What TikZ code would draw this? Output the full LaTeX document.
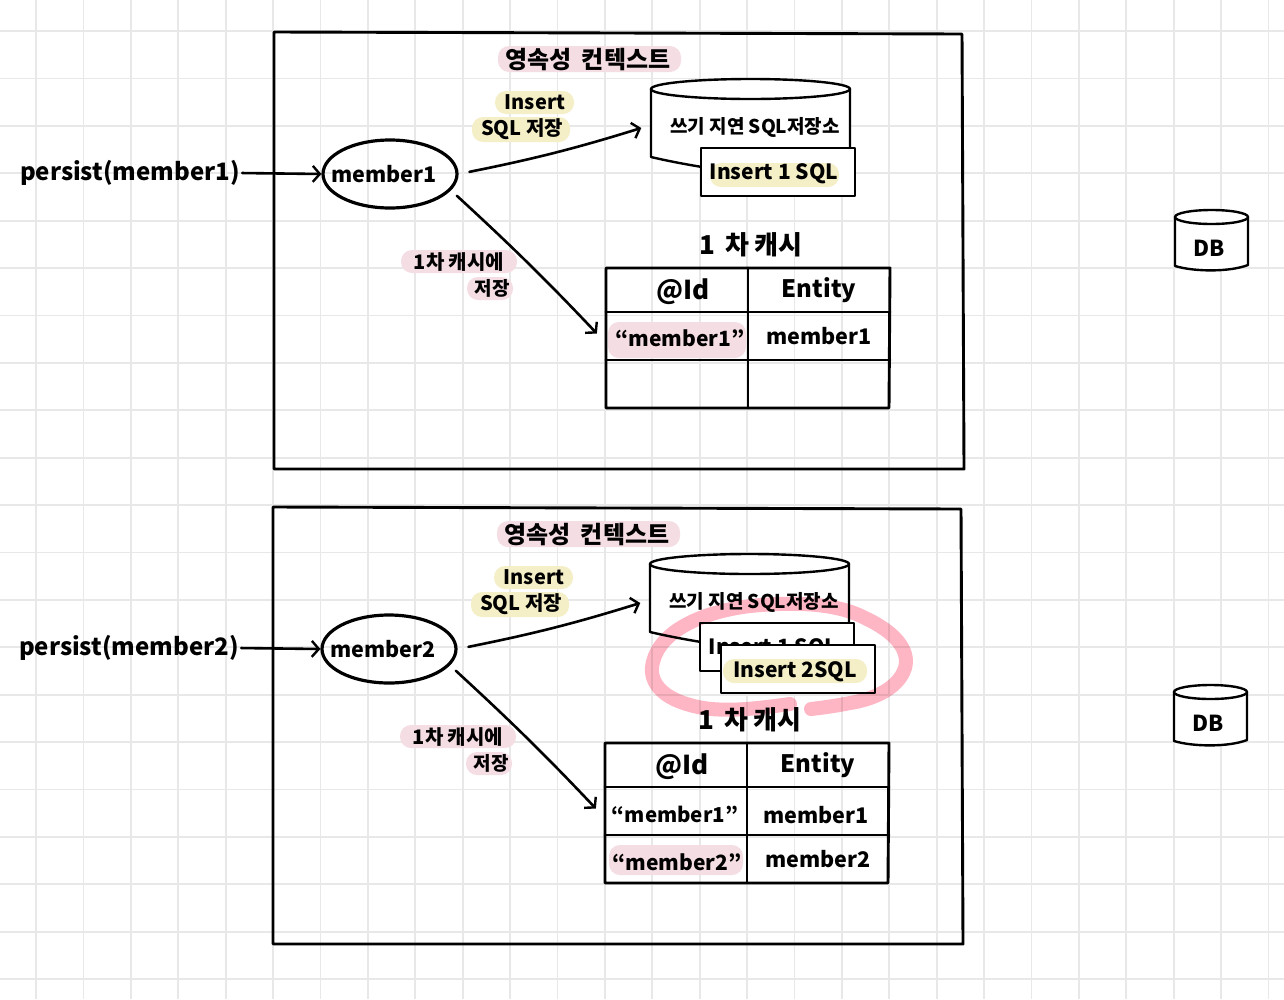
\documentclass[tikz,border=0pt]{standalone}
\usepackage{fontspec}
\setmainfont{Noto Sans CJK KR}
\usetikzlibrary{arrows.meta,shapes.geometric}
\definecolor{gridc}{HTML}{E8E8E8}
\definecolor{hlpink}{HTML}{F4DEE4}
\definecolor{hlyel}{HTML}{F5EFC8}
\definecolor{ringc}{HTML}{FFB6C4}
\tikzset{
  hw/.style={line width=2.9pt,black,line join=round,line cap=round},
  conn/.style={hw,line width=2.6pt,-{Straight Barb[length=7pt,width=16pt,line width=2.4pt]}},
  txt/.style={inner sep=0pt,text=black,font=\fontsize{#1}{#1}\selectfont\bfseries},
  hlP/.style={fill=hlpink,rounded corners=11pt},
  hlY/.style={fill=hlyel,rounded corners=11pt},
  cell/.style={inner sep=0pt,minimum width=142pt,minimum height=46pt}
}
% #1 prefix, #2 member name
\newcommand{\panelbase}[2]{%
  \draw[hw] (274,32) -- (962,34) -- (964,469) -- (274,469) -- cycle;
  \fill[hlP] (498,46) rectangle (681,72);
  \node[txt=24] (#1title) at (588,60) {영속성\hspace{10pt}컨텍스트};
  \fill[hlY] (495,91) rectangle (574,114);
  \node[txt=20] (#1ins) at (535,102) {Insert};
  \fill[hlY] (472,117) rectangle (570,142);
  \node[txt=20] (#1sqlsave) at (522,129) {SQL 저장};
  % write-behind store
  \node[inner sep=0pt,minimum width=199pt,minimum height=90pt] (#1store) at (750.5,125) {};
  \draw[hw,line width=2.4pt,fill=white] (651,89) -- (651,157) .. controls (668,161) and (684,164) .. (702,167) -- (850,167) -- (850,89);
  \draw[hw,line width=2.4pt,fill=white] (750.5,89) ellipse [x radius=99.5,y radius=10];
  \node[txt=19] (#1storetxt) at (755,127) {쓰기 지연 SQL저장소};
  % member
  \node[draw,hw,line width=3.2pt,ellipse,minimum width=134pt,minimum height=68pt,inner sep=0pt] (#1m) at (390,174) {};
  \node[txt=21.5] (#1mtxt) at (384,174) {#2};
  \node[txt=24] (#1per) at (130,173) {persist(#2)};
  \draw[conn,shorten <=2pt] (#1per.east) -- (#1m.west);
  \draw[conn,shorten >=10pt,shorten <=11pt] (#1m.east) to[bend right=3] (#1store.west);
  % cache
  \node[txt=26] (#1ctitle) at (751,245) {1\hspace{4pt} 차 캐시};
  \node[cell,minimum height=44pt] (#1c11) at (677,290) {};
  \node[cell,minimum height=44pt] (#1c12) at (819,290) {};
  \node[cell,minimum height=48pt] (#1c21) at (677,336) {};
  \node[cell,minimum height=48pt] (#1c22) at (819,336) {};
  \node[cell,minimum height=48pt] (#1c31) at (677,384) {};
  \node[cell,minimum height=48pt] (#1c32) at (819,384) {};
  \draw[hw] (606,268) -- (890,268) -- (889,408) -- (606,408) -- cycle;
  \draw[hw] (606,312) -- (890,312) (606,360) -- (890,360) (748,268) -- (748,408);
  \node[txt=26] (#1idt) at (683,292) {@Id};
  \node[txt=24] (#1ent) at (819,290) {Entity};
  \fill[hlP] (401,250) rectangle (517,273);
  \node[txt=20] (#1l1) at (459,262) {1차 캐시에};
  \fill[hlP] (467,277) rectangle (513,300);
  \node[txt=19] (#1l2) at (492,288) {저장};
  \draw[conn,shorten >=13pt,shorten <=8pt] (#1m.-15) to[bend left=2] ([yshift=-7pt]#1c21.west);
  % DB
  \draw[hw,line width=2.4pt,fill=white] (1175,217) -- (1175,266) .. controls (1195,272) and (1230,272) .. (1248,265) -- (1248,217);
  \draw[hw,line width=2.4pt,fill=white] (1211.5,217) ellipse [x radius=36.5,y radius=7];
  \node[txt=22] (#1db) at (1209,248) {DB};
}
\begin{document}
\begin{tikzpicture}[x=1pt,y=-1pt]
\useasboundingbox (0,0) rectangle (1284,999);
\fill[white] (0,0) rectangle (1284,999);
\foreach \i in {0,...,26} {\draw[gridc,line width=1.8pt] ({36+47.4*\i},0) -- ({36+47.4*\i},999);}
\foreach \i in {0,...,20} {\draw[gridc,line width=1.8pt] (0,{31+47.4*\i}) -- (1284,{31+47.4*\i});}

\begin{scope}
  \panelbase{a}{member1}
  \fill[hlP] (608,322) rectangle (746,358);
  \node[txt=21] (acv) at (680,338) {“member1”};
  \node[txt=21.5] (ace) at (819,336) {member1};
  \draw[hw,line width=2.2pt,fill=white] (701,148) rectangle (855,196);
  \fill[hlY] (710,163) rectangle (839,187);
  \node[txt=21] (ai1) at (774,174) {Insert 1 SQL};
\end{scope}

\begin{scope}[shift={(-1,475)}]
  \panelbase{b}{member2}
  \node[txt=20.5] (bcv1) at (676,339) {“member1”};
  \node[txt=21.5] (bce1) at (817,340) {member1};
  \fill[hlP] (610,370) rectangle (744,400);
  \node[txt=21] (bcv2) at (678,387) {“member2”};
  \node[txt=21.5] (bce2) at (819,384) {member2};
  \draw[hw,line width=2.2pt,fill=white] (701,148) rectangle (855,196);
  \node[txt=21] (bi1) at (774,174) {Insert 1 SQL};
  \draw[hw,line width=2.2pt,fill=white] (722,170) rectangle (876,218);
  \fill[hlY] (724,184) rectangle (868,208);
  \node[txt=21] (bi2) at (796,197) {Insert 2SQL};
\end{scope}
\begin{scope}[blend mode=multiply]
  \draw[ringc,line width=14pt,line cap=round,line join=round]
    (790,704) .. controls (760,708) and (720,714) .. (690,705)
    .. controls (660,697) and (648,680) .. (653,662)
    .. controls (660,632) and (700,612) .. (750,606)
    .. controls (790,602) and (835,602) .. (865,618)
    .. controls (895,632) and (910,650) .. (905,668)
    .. controls (898,690) and (870,700) .. (850,703)
    .. controls (835,706) and (820,708) .. (811,709);
\end{scope}
\end{tikzpicture}
\end{document}
